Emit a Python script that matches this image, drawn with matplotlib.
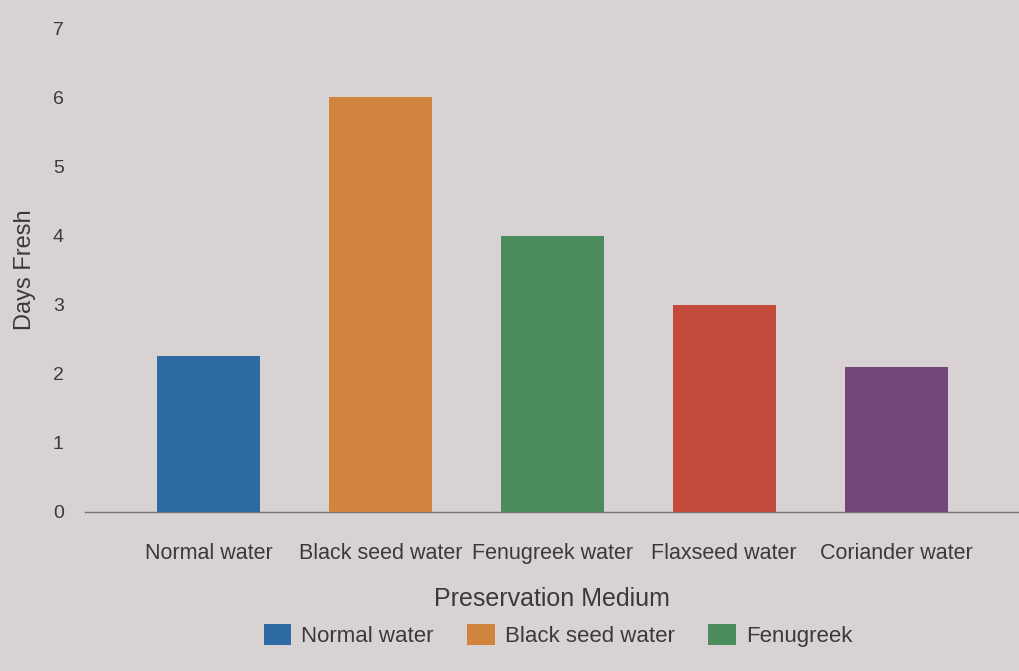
import matplotlib.pyplot as plt
from matplotlib.patches import Patch

# values
media = ["Normal water", "Black seed water", "Fenugreek water", "Flaxseed water", "Coriander water"]
days_fresh = [2.25, 6.0, 4.0, 3.0, 2.1]
legend_labels = ["Normal water", "Black seed water", "Fenugreek"]
y_ticks = [0, 1, 2, 3, 4, 5, 6, 7]

BAR_COLORS = ["#2e6aa3", "#d0843e", "#4a8c5c", "#c24b3b", "#74457a"]
BG = "#d8d3d2"
TEXT = "#3a3a3a"

plt.rcParams.update({
    "font.family": ["Liberation Sans", "DejaVu Sans"],
    "axes.spines.top": False,
    "axes.spines.right": False,
    "axes.spines.left": False,
})

fig = plt.figure(figsize=(10.2, 6.71), dpi=100, facecolor=BG)
ax = fig.add_axes([0.083, 0.237, 0.917, 0.721], facecolor=BG)

x = range(len(media))
ax.bar(x, days_fresh, width=0.6, color=BAR_COLORS, zorder=3)

ax.set_xlim(-0.72, 4.72)
ax.set_ylim(0, 7)
ax.set_yticks(y_ticks)
ax.set_xticks(list(x))
ax.set_xticklabels(media)
ax.tick_params(axis="both", length=0, colors=TEXT)
ax.tick_params(axis="x", labelsize=15.5, pad=22)
ax.tick_params(axis="y", labelsize=14, pad=15)
ax.spines["bottom"].set_color("#777777")
ax.spines["bottom"].set_linewidth(1.0)

ax.set_xlabel("Preservation Medium", fontsize=18, color=TEXT, labelpad=17)
ax.set_ylabel("Days Fresh", fontsize=17, color=TEXT, labelpad=12)

handles = [Patch(facecolor=BAR_COLORS[i]) for i in range(len(legend_labels))]
fig.legend(handles, legend_labels, loc="center", bbox_to_anchor=(0.547, 0.053),
           ncol=len(legend_labels), frameon=False, fontsize=16,
           handlelength=1.25, handleheight=1.1, handletextpad=0.45,
           columnspacing=1.5, labelcolor=TEXT)

fig.savefig("out.png", dpi=100, facecolor=BG)
